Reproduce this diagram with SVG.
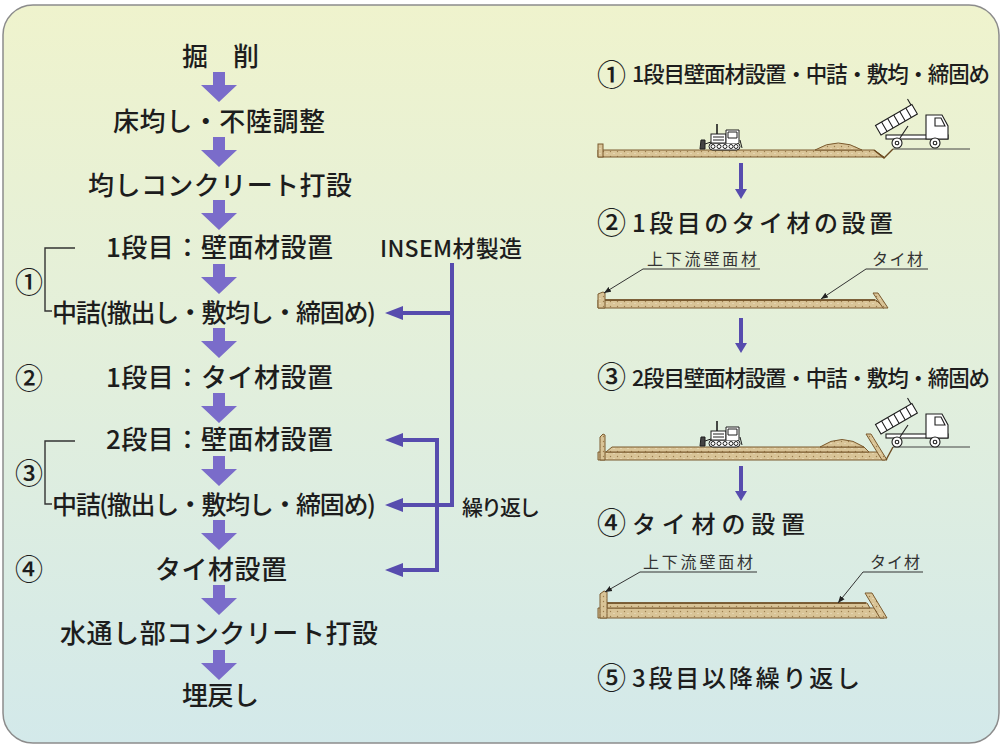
<svg xmlns="http://www.w3.org/2000/svg" width="1002" height="747" viewBox="0 0 1002 747">
<style>
  .t{font-family:"Noto Sans CJK JP","Noto Sans CJK SC",sans-serif;fill:#1d1d1d;font-weight:500}
  .step{font-size:26px}
  .fill{font-size:25px}
  .num{font-size:28px;text-anchor:middle}
  .cnum{font-size:29px}
  .head{font-size:21.5px}
  .head2{font-size:24px}
  .lbl{font-size:16px;fill:#333;font-weight:400}
  .flow{fill:#7a6cca}
  .conn{fill:none;stroke:#574cae;stroke-width:4;stroke-linejoin:miter}
  .connhead{fill:#574cae}
  .brk{fill:none;stroke:#333;stroke-width:1.4}
  .soil{fill:url(#sand);stroke:#7a5a2e;stroke-width:1}
  .edge{fill:none;stroke:#6b4a20;stroke-width:1.4}
  .ground{fill:none;stroke:#444;stroke-width:1}
  .lead{fill:none;stroke:#333;stroke-width:1}
</style>
<defs>
  <linearGradient id="bg" x1="0" y1="0" x2="0" y2="1">
    <stop offset="0" stop-color="#eff3cd"/>
    <stop offset="0.5" stop-color="#e2efdc"/>
    <stop offset="1" stop-color="#d3e9ea"/>
  </linearGradient>
  <pattern id="sand" width="7" height="5" patternUnits="userSpaceOnUse">
    <rect width="7" height="5" fill="#d9c497"/>
    <circle cx="1.5" cy="1.5" r="0.7" fill="#9b7d4e"/>
    <circle cx="5" cy="3.5" r="0.6" fill="#f4ead0"/>
  </pattern>
  <!-- thick flow arrow, top centre at origin -->
  <path id="down" d="M-6,0 H6 V13 H18 L0,30 L-18,13 H-6 Z"/>
  <marker id="arr" viewBox="0 0 18 14" refX="13" refY="7" markerWidth="18" markerHeight="14" markerUnits="userSpaceOnUse" orient="auto-start-reverse">
    <path d="M0,0 L18,7 L0,14 Z" fill="#574cae"/>
  </marker>
  <marker id="tip" viewBox="0 0 10 10" refX="10" refY="5" markerWidth="7" markerHeight="7" markerUnits="userSpaceOnUse" orient="auto">
    <path d="M0,1 L10,5 L0,9 Z" fill="#222"/>
  </marker>
  <!-- bulldozer, origin at ground level, front left -->
  <g id="dozer" stroke="#1e1e1e" stroke-width="1" fill="#fff">
    <path d="M0,-1 L1,-10 L5,-10 L5,-1 Z" fill="#444"/>
    <path d="M5,-6 L11,-8" fill="none"/>
    <rect x="9" y="-7" width="31" height="7" rx="3.5"/>
    <circle cx="13" cy="-3.5" r="2"/>
    <circle cx="19" cy="-3.5" r="2"/>
    <circle cx="25" cy="-3.5" r="2"/>
    <circle cx="31" cy="-3.5" r="2"/>
    <circle cx="36" cy="-3.5" r="2"/>
    <rect x="11" y="-16" width="15" height="9"/>
    <path d="M13,-13 H24 M13,-10 H24" fill="none"/>
    <path d="M17,-16 V-26" stroke-width="1.6"/>
    <path d="M26,-7 V-20 H39 V-7"/>
    <path d="M28,-18 H37 V-12 H28 Z"/>
    <path d="M40,-10 L42,-2" fill="none"/>
  </g>
  <!-- dump truck with raised body, origin at ground level, rear -->
  <g id="truck" stroke="#1e1e1e" stroke-width="1.1" fill="#fff">
    <g transform="translate(3,-13) rotate(-30)">
      <rect x="0" y="-11" width="42" height="11"/>
      <path d="M7,-11 V0 M14,-11 V0 M21,-11 V0 M28,-11 V0 M35,-11 V0 M41,-11 V-18" fill="none"/>
    </g>
    <rect x="8" y="-13" width="62" height="4"/>
    <path d="M22,-10 L30,-22" fill="none"/>
    <path d="M48,-9 V-33 H64 L70,-22 V-9 Z"/>
    <path d="M57,-30 H63 L67,-22 H57 Z"/>
    <circle cx="19" cy="-5" r="5"/>
    <circle cx="19" cy="-5" r="1.8"/>
    <circle cx="57" cy="-5" r="5"/>
    <circle cx="57" cy="-5" r="1.8"/>
  </g>
</defs>

<rect x="3" y="5" width="996" height="738" rx="30" fill="url(#bg)" stroke="#8c8c8c" stroke-width="1.5"/>

<!-- construction flow -->
<g id="n-kussaku"><text class="t step" x="182" y="66" textLength="77">掘　削</text></g>
<g id="n-yukanarashi"><text class="t step" x="113" y="131" textLength="212">床均し・不陸調整</text></g>
<g id="n-leveling-concrete"><text class="t step" x="88" y="195" textLength="264">均しコンクリート打設</text></g>
<g id="n-wall1"><text class="t step" x="106" y="257" textLength="227">1段目：壁面材設置</text></g>
<g id="n-fill1"><text class="t fill" x="52" y="322" textLength="324">中詰(撤出し・敷均し・締固め)</text></g>
<g id="n-tie1"><text class="t step" x="106" y="387" textLength="227">1段目：タイ材設置</text></g>
<g id="n-wall2"><text class="t step" x="106" y="449" textLength="227">2段目：壁面材設置</text></g>
<g id="n-fill2"><text class="t fill" x="52" y="514" textLength="324">中詰(撤出し・敷均し・締固め)</text></g>
<g id="n-tie2"><text class="t step" x="155" y="579" textLength="132">タイ材設置</text></g>
<g id="n-channel-concrete"><text class="t step" x="60" y="643" textLength="318">水通し部コンクリート打設</text></g>
<g id="n-backfill"><text class="t step" x="182" y="705" textLength="77">埋戻し</text></g>
<g id="n-insem"><text class="t" x="380" y="257" font-size="23" textLength="142">INSEM材製造</text></g>
<g id="n-repeat"><text class="t" x="462" y="515" font-size="21" textLength="78">繰り返し</text></g>

<!-- stage numbers and brackets -->
<g id="stage-marks">
  <text class="t num" x="29" y="293">①</text>
  <text class="t num" x="29" y="389">②</text>
  <text class="t num" x="29" y="484">③</text>
  <text class="t num" x="29" y="580">④</text>
  <path class="brk" d="M75,248 H45 V311 H52"/>
  <path class="brk" d="M75,441 H45 V504 H52"/>
</g>

<g id="connectors">
  <use href="#down" class="flow" x="219" y="72"/>
  <use href="#down" class="flow" x="219" y="137"/>
  <use href="#down" class="flow" x="219" y="200"/>
  <use href="#down" class="flow" x="219" y="264"/>
  <use href="#down" class="flow" x="219" y="328"/>
  <use href="#down" class="flow" x="219" y="393"/>
  <use href="#down" class="flow" x="219" y="456"/>
  <use href="#down" class="flow" x="219" y="520"/>
  <use href="#down" class="flow" x="219" y="585"/>
  <use href="#down" class="flow" x="219" y="650"/>
  <!-- INSEM supply -->
  <path class="conn" d="M452,263 V505 H390" marker-end="url(#arr)"/>
  <path class="conn" d="M452,313 H390" marker-end="url(#arr)"/>
  <!-- repeat loop -->
  <path class="conn" d="M390,440 H437 V570 H390" marker-start="url(#arr)" marker-end="url(#arr)"/>
  <!-- right column arrows -->
  <path class="conn" d="M741,163 V190"/>
  <path class="connhead" d="M735,189 H747 L741,199 Z"/>
  <path class="conn" d="M741,318 V344"/>
  <path class="connhead" d="M735,343 H747 L741,353 Z"/>
  <path class="conn" d="M741,466 V492"/>
  <path class="connhead" d="M735,491 H747 L741,501 Z"/>
</g>

<!-- right column headings -->
<g id="headings">
  <text class="t cnum" x="597" y="86">①</text>
  <text class="t head" x="632" y="82" textLength="358">1段目壁面材設置・中詰・敷均・締固め</text>
  <text class="t cnum" x="597" y="234">②</text>
  <text class="t head2" x="632" y="232" textLength="261">1段目のタイ材の設置</text>
  <text class="t cnum" x="597" y="388">③</text>
  <text class="t head" x="632" y="386" textLength="358">2段目壁面材設置・中詰・敷均・締固め</text>
  <text class="t cnum" x="597" y="534">④</text>
  <text class="t head2" x="632" y="533" textLength="173">タイ材の設置</text>
  <text class="t cnum" x="597" y="689">⑤</text>
  <text class="t head2" x="632" y="687" textLength="228">3段目以降繰り返し</text>
</g>

<!-- stage 1 sketch -->
<g id="sketch1">
  <path class="soil" d="M598,150 H874 L884,157 H598 Z"/>
  <rect class="soil" x="598" y="144" width="5" height="13"/>
  <path class="edge" d="M874,150 L884,158 L893,149"/>
  <path class="ground" d="M893,149 H970"/>
  <path class="soil" d="M815,150 Q838,136 862,150 Z"/>
  <use href="#dozer" x="700" y="150"/>
  <use href="#truck" x="878" y="148"/>
</g>

<!-- stage 2 sketch -->
<g id="sketch2">
  <path class="soil" d="M598,300 H876 L884,308 H598 Z"/>
  <path class="edge" d="M605,300 H875"/>
  <path class="soil" d="M598,308 V294 L603,292 L605,293 V308 Z"/>
  <path class="soil" d="M873,293 L878,293 L888,308 L883,308 Z"/>
  <text class="t lbl" x="647" y="265" textLength="110">上下流壁面材</text>
  <text class="t lbl" x="872" y="265" textLength="51">タイ材</text>
  <path class="lead" d="M760,269 H643 L604,293" marker-end="url(#tip)"/>
  <path class="lead" d="M928,269 H866 L821,299" marker-end="url(#tip)"/>
</g>

<!-- stage 3 sketch -->
<g id="sketch3">
  <path class="soil" d="M598,452 H880 L885,460 H598 Z"/>
  <path class="soil" d="M612,447 H864 L869,452 H606 Z"/>
  <path class="soil" d="M600,460 V437 L603,434 L605,435 V460 Z"/>
  <path class="soil" d="M866,434 L871,434 L887,460 L882,460 Z"/>
  <path class="edge" d="M886,460 L893,447"/>
  <path class="ground" d="M893,447 H970"/>
  <path class="soil" d="M820,447 Q842,432 864,447 Z"/>
  <use href="#dozer" x="700" y="447"/>
  <use href="#truck" x="878" y="447"/>
</g>

<!-- stage 4 sketch -->
<g id="sketch4">
  <path class="soil" d="M598,608 H880 L884,618 H598 Z"/>
  <path class="soil" d="M607,603 H867 L870,608 H607 Z"/>
  <path class="edge" d="M607,603 H866"/>
  <path class="soil" d="M600,618 V594 L604,591 L607,592 V618 Z"/>
  <path class="soil" d="M865,593 L872,593 L887,618 L880,618 Z"/>
  <text class="t lbl" x="643" y="568" textLength="110">上下流壁面材</text>
  <text class="t lbl" x="870" y="568" textLength="50">タイ材</text>
  <path class="lead" d="M757,572 H640 L605,592" marker-end="url(#tip)"/>
  <path class="lead" d="M923,572 H863 L838,603" marker-end="url(#tip)"/>
</g>
</svg>
